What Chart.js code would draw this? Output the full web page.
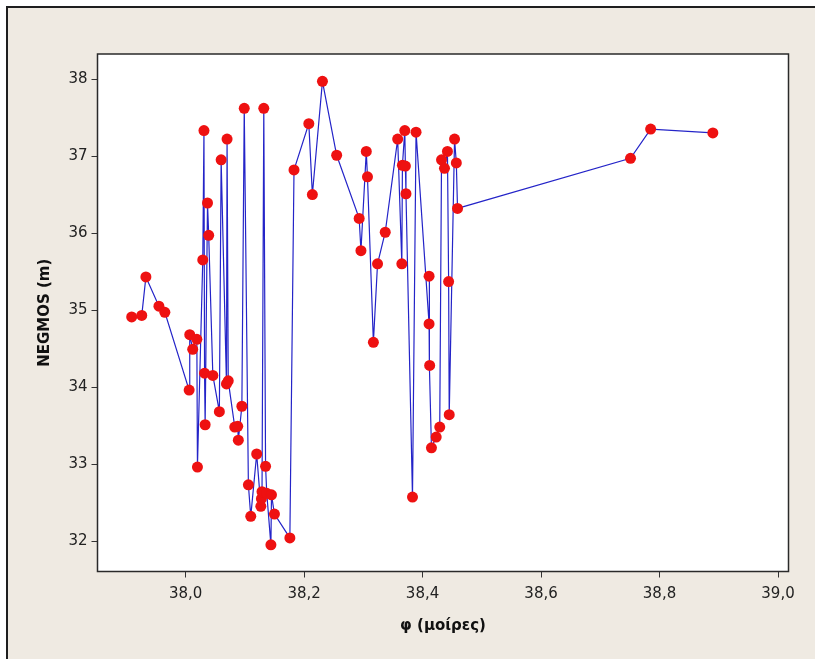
<!DOCTYPE html>
<html>
<head>
<meta charset="utf-8">
<script src="https://cdn.jsdelivr.net/npm/chart.js@4"></script>
<style>
  body { margin: 0; background: #fff; }
  canvas { display: block; }
</style>
</head>
<body>
<canvas id="negmosChart" width="815" height="659"></canvas>
<script>
// latitude in degrees, sorted so the connecting line runs left to right
const phi = [
  37.909, 37.926, 37.933, 37.955, 37.965, 38.006, 38.007, 38.012, 38.019, 38.020,
  38.029, 38.031, 38.032, 38.033, 38.037, 38.039, 38.046, 38.057, 38.060, 38.069,
  38.070, 38.072, 38.083, 38.088, 38.089, 38.095, 38.099, 38.106, 38.110, 38.120,
  38.127, 38.128, 38.129, 38.132, 38.135, 38.137, 38.144, 38.145, 38.150, 38.176,
  38.183, 38.208, 38.214, 38.231, 38.255, 38.293, 38.296, 38.305, 38.307, 38.317,
  38.324, 38.337, 38.358, 38.365, 38.366, 38.370, 38.371, 38.372, 38.383, 38.389,
  38.411, 38.411, 38.412, 38.415, 38.423, 38.429, 38.432, 38.437, 38.442, 38.444,
  38.445, 38.454, 38.457, 38.459, 38.751, 38.785, 38.890
];
// NEGMOS values in metres
const negmos = [
  34.91, 34.93, 35.43, 35.05, 34.97, 33.96, 34.68, 34.49, 34.62, 32.96,
  35.65, 37.33, 34.18, 33.51, 36.39, 35.97, 34.15, 33.68, 36.95, 34.04,
  37.22, 34.08, 33.48, 33.49, 33.31, 33.75, 37.62, 32.73, 32.32, 33.13,
  32.45, 32.55, 32.64, 37.62, 32.97, 32.62, 31.95, 32.60, 32.35, 32.04,
  36.82, 37.42, 36.50, 37.97, 37.01, 36.19, 35.77, 37.06, 36.73, 34.58,
  35.60, 36.01, 37.22, 35.60, 36.88, 37.33, 36.87, 36.51, 32.57, 37.31,
  34.82, 35.44, 34.28, 33.21, 33.35, 33.48, 36.95, 36.84, 37.06, 35.37,
  33.64, 37.22, 36.91, 36.32, 36.97, 37.35, 37.30
];
const xTicks = [38.0, 38.2, 38.4, 38.6, 38.8, 39.0];
const yTicks = [32, 33, 34, 35, 36, 37, 38];

const points = phi.map((x, i) => ({ x: x, y: negmos[i] }));

// beige panel with the dark frame edge, white plot area and its border
const frame = {
  id: 'frame',
  beforeDraw(chart) {
    const { ctx, chartArea: a, width, height } = chart;
    ctx.save();
    ctx.fillStyle = '#ffffff';
    ctx.fillRect(0, 0, width, height);
    ctx.fillStyle = '#efeae2';
    ctx.fillRect(7, 7, width - 7, height - 7);
    ctx.strokeStyle = '#1e1e1e';
    ctx.lineWidth = 2;
    ctx.beginPath();
    ctx.moveTo(7, height);
    ctx.lineTo(7, 7);
    ctx.lineTo(width, 7);
    ctx.stroke();
    ctx.fillStyle = '#ffffff';
    ctx.fillRect(a.left, a.top, a.right - a.left, a.bottom - a.top);
    ctx.restore();
  },
  beforeDatasetsDraw(chart) {
    const { ctx, chartArea: a } = chart;
    ctx.save();
    ctx.strokeStyle = '#2a2a2a';
    ctx.lineWidth = 1.5;
    ctx.strokeRect(a.left, a.top, a.right - a.left, a.bottom - a.top);
    ctx.restore();
  }
};

const tickFont = { family: 'DejaVu Sans', size: 15 };
const titleFont = { family: 'DejaVu Sans', size: 15, weight: 'bold' };

new Chart(document.getElementById('negmosChart'), {
  type: 'scatter',
  data: {
    datasets: [{
      data: points,
      showLine: true,
      borderColor: '#2424c8',
      borderWidth: 1.2,
      pointRadius: 5.5,
      pointBackgroundColor: '#ee1111',
      pointBorderColor: '#ee1111',
      pointBorderWidth: 0
    }]
  },
  options: {
    responsive: false,
    animation: false,
    devicePixelRatio: 1,
    layout: { autoPadding: false, padding: { left: 8, top: 54, right: 26.5, bottom: 0 } },
    plugins: { legend: { display: false }, tooltip: { enabled: false } },
    scales: {
      x: {
        type: 'linear',
        min: 37.8513,
        max: 39.0177,
        afterBuildTicks: s => { s.ticks = xTicks.map(v => ({ value: v })); },
        afterFit: s => { s.height = 87.5; },
        grid: { drawOnChartArea: false, drawTicks: true, tickLength: 6, tickColor: '#333', tickWidth: 1 },
        border: { display: false },
        ticks: {
          color: '#222',
          font: tickFont,
          padding: 8,
          maxRotation: 0,
          callback: v => v.toFixed(1).replace('.', ',')
        },
        title: { display: true, text: 'φ (μοίρες)', color: '#111', font: titleFont, padding: { bottom: 24 } }
      },
      y: {
        type: 'linear',
        min: 31.604,
        max: 38.325,
        afterBuildTicks: s => { s.ticks = yTicks.map(v => ({ value: v })); },
        afterFit: s => { s.width = 89.5; },
        grid: { drawOnChartArea: false, drawTicks: true, tickLength: 6, tickColor: '#333', tickWidth: 1 },
        border: { display: false },
        ticks: { color: '#222', font: tickFont, padding: 4 },
        title: { display: true, text: 'NEGMOS (m)', color: '#111', font: titleFont, padding: { top: 28 } }
      }
    }
  },
  plugins: [frame]
});
</script>
</body>
</html>
